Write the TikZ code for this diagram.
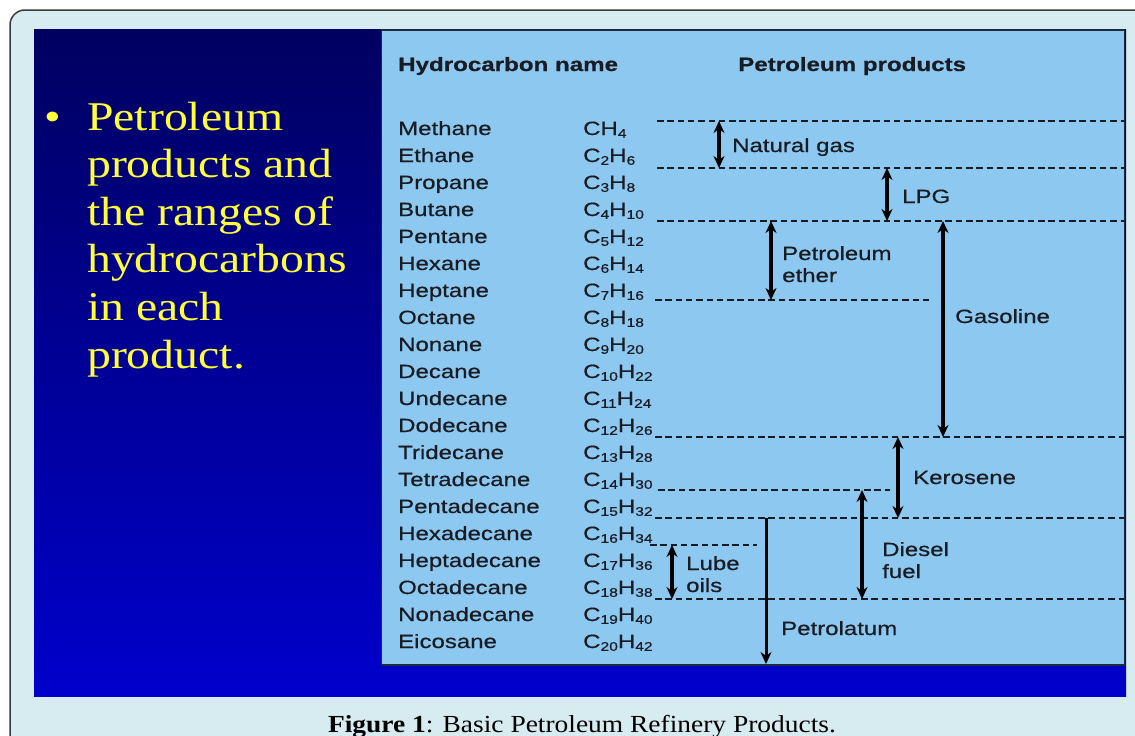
\documentclass[tikz,border=0pt]{standalone}
\usepackage{fontspec}
\usetikzlibrary{arrows.meta}
\newfontfamily\panelfont[FakeStretch=1.25, FakeBold=0.6]{Liberation Sans}
\newfontfamily\slidefont[FakeStretch=1.17]{Liberation Serif}
\newfontfamily\capfont[FakeStretch=1.12]{Liberation Serif}
\definecolor{framebg}{HTML}{D7ECF1}
\definecolor{frameline}{HTML}{3A3A3A}
\definecolor{slidetop}{HTML}{000060}
\definecolor{slidebot}{HTML}{0000CC}
\definecolor{panelbg}{HTML}{8DC8F0}
\definecolor{panelline}{HTML}{1E2A40}
\definecolor{inkdark}{HTML}{1A1C24}
\definecolor{slideyellow}{HTML}{FFFF3A}
\newcommand\sbs[1]{\raisebox{-2.8pt}{\fontsize{12.5}{12.5}\selectfont#1}}
\tikzset{
  rowtext/.style={anchor=base west, inner sep=0pt, text=inkdark,
    font=\panelfont\fontsize{19.2}{19.2}\selectfont},
  headtext/.style={rowtext, font=\panelfont\bfseries\fontsize{19.3}{19.3}\selectfont},
  prodtext/.style={rowtext, align=left,
    font=\panelfont\fontsize{19.2}{22}\selectfont},
  slidetext/.style={anchor=base west, inner sep=0pt, text=slideyellow,
    font=\slidefont\fontsize{40.8}{47.6}\selectfont},
  cutline/.style={draw=inkdark, line width=1.8pt, dash pattern=on 6.5pt off 3.8pt},
  spanarrow/.style={draw=black, line width=3.3pt,
    {Stealth[length=12pt,width=11pt]}-{Stealth[length=12pt,width=11pt]}},
  downarrow/.style={draw=black, line width=3pt,
    -{Stealth[length=12pt,width=11pt]}},
}
\begin{document}
\begin{tikzpicture}[x=1pt,y=-1pt]
\useasboundingbox (0,0) rectangle (1135,736);
\fill[white] (0,0) rectangle (1135,736);
\begin{scope}
\clip (0,0) rectangle (1135,736);
% outer frame
\draw[fill=framebg, draw=frameline, line width=1.5pt, rounded corners=15pt]
  (10,10) rectangle (1170,780);
\end{scope}
% slide background
\shade[top color=slidetop, bottom color=slidebot] (34,29) rectangle (1126,696);
% table panel
\draw[fill=panelbg, draw=panelline, line width=1.5pt] (381.5,30) rectangle (1124.5,665);

% bullet text (multi-line nodes are anchored on their last line)
\node[slidetext] (bul) at (44,130) {•};
\node[slidetext, align=left] (blurb) at (87,368)
  {Petroleum\\products and\\the ranges of\\hydrocarbons\\in each\\product.};

% headers
\node[headtext] (hname) at (398,71) {Hydrocarbon name};
\node[headtext] (hprod) at (738,71) {Petroleum products};

% hydrocarbon rows
\foreach \nm/\fm [count=\i from 0] in {
  Methane/CH\sbs{4},
  Ethane/C\sbs{2}H\sbs{6},
  Propane/C\sbs{3}H\sbs{8},
  Butane/C\sbs{4}H\sbs{10},
  Pentane/C\sbs{5}H\sbs{12},
  Hexane/C\sbs{6}H\sbs{14},
  Heptane/C\sbs{7}H\sbs{16},
  Octane/C\sbs{8}H\sbs{18},
  Nonane/C\sbs{9}H\sbs{20},
  Decane/C\sbs{10}H\sbs{22},
  Undecane/C\sbs{11}H\sbs{24},
  Dodecane/C\sbs{12}H\sbs{26},
  Tridecane/C\sbs{13}H\sbs{28},
  Tetradecane/C\sbs{14}H\sbs{30},
  Pentadecane/C\sbs{15}H\sbs{32},
  Hexadecane/C\sbs{16}H\sbs{34},
  Heptadecane/C\sbs{17}H\sbs{36},
  Octadecane/C\sbs{18}H\sbs{38},
  Nonadecane/C\sbs{19}H\sbs{40},
  Eicosane/C\sbs{20}H\sbs{42}}{
  \node[rowtext] (name\i) at (398,{135+27*\i}) {\nm};
  \node[rowtext] (form\i) at (583,{135+27*\i}) {\fm};
}

% cut lines between product ranges
\foreach \nm/\xa/\xb/\yy in {c1/657/1124/121, c2/657/1124/168, c3/657/1124/221,
  c4/655/930/300, c5/655/1124/437, c6/658/890/490, c7/655/1124/518,
  c8/650/757/545, c9/655/1124/599}{
  \coordinate (\nm a) at (\xa,\yy);
  \coordinate (\nm b) at (\xb,\yy);
  \draw[cutline] (\nm a) -- (\nm b);
}

% range arrows
\coordinate (ngT) at (719,121); \coordinate (ngB) at (719,168);
\coordinate (lpT) at (887,168); \coordinate (lpB) at (887,221);
\coordinate (peT) at (771,221); \coordinate (peB) at (771,300);
\coordinate (gaT) at (943,221); \coordinate (gaB) at (943,437);
\coordinate (keT) at (898,437); \coordinate (keB) at (898,518);
\coordinate (diT) at (862,490); \coordinate (diB) at (862,599);
\coordinate (luT) at (672,545); \coordinate (luB) at (672,599);
\coordinate (ptT) at (766,518); \coordinate (ptB) at (766,664);
\draw[spanarrow] (ngT) -- (ngB);
\draw[spanarrow] (lpT) -- (lpB);
\draw[spanarrow] (peT) -- (peB);
\draw[spanarrow] (gaT) -- (gaB);
\draw[spanarrow] (keT) -- (keB);
\draw[spanarrow] (diT) -- (diB);
\draw[spanarrow] (luT) -- (luB);
\draw[downarrow] (ptT) -- (ptB);

% product labels
\node[prodtext] (ng) at (732,152) {Natural gas};
\node[prodtext] (lpg) at (902,203) {LPG};
\node[prodtext] (pe) at (782,282) {Petroleum\\ether};
\node[prodtext] (ga) at (955,323) {Gasoline};
\node[prodtext] (ke) at (913,484) {Kerosene};
\node[prodtext] (di) at (882,578) {Diesel\\fuel};
\node[prodtext] (lu) at (686,592) {Lube\\oils};
\node[prodtext] (pt) at (781,635) {Petrolatum};

% caption
\node[anchor=base, inner sep=0pt, text=black,
  font=\capfont\fontsize{24.5}{24.5}\selectfont] (cap) at (582,732)
  {\textbf{Figure 1}: Basic Petroleum Refinery Products.};
\end{tikzpicture}
\end{document}
